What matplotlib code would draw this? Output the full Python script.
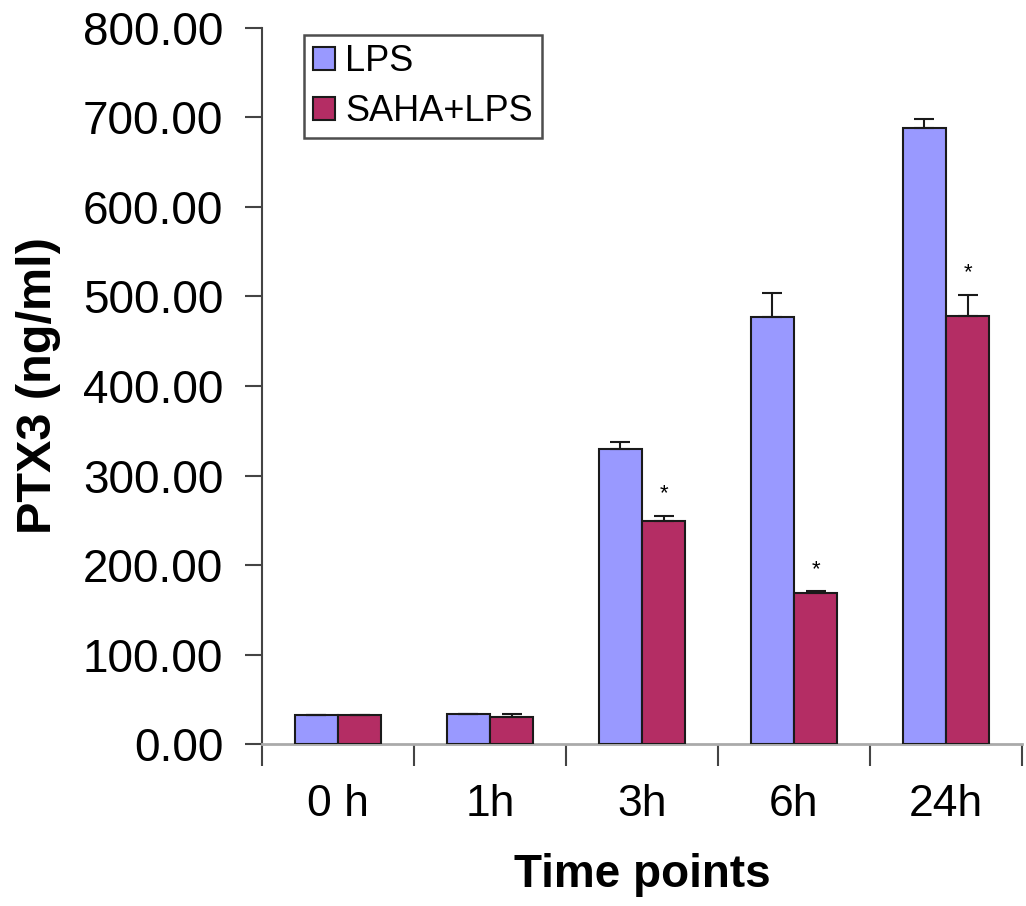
import matplotlib
matplotlib.use("Agg")
import matplotlib.pyplot as plt
import numpy as np

plt.rcParams['font.family'] = ['Liberation Sans', 'DejaVu Sans']

categories = ["0 h", "1h", "3h", "6h", "24h"]
lps_values = [32, 34, 330, 477, 688]
lps_errors = [0, 0, 7, 27, 10]
saha_values = [32, 30, 249, 169, 478]
saha_errors = [0, 3, 6, 2, 24]
significant = [False, False, True, True, True]
yticks = [0, 100, 200, 300, 400, 500, 600, 700, 800]

lps_color = "#9999FF"
saha_color = "#B42D64"

fig = plt.figure(figsize=(10.26, 9.06), dpi=100)
ax = fig.add_axes([0.2554, 0.1788, 0.7406, 0.7903])

x = np.arange(len(categories))
w = 0.285
ax.bar(x - w / 2, lps_values, w, color=lps_color, edgecolor="#1a1a1a", linewidth=1.5,
       yerr=[np.zeros(len(x)), lps_errors], error_kw=dict(ecolor="#1a1a1a", elinewidth=1.5, capsize=7, capthick=1.5),
       label="LPS", zorder=3)
ax.bar(x + w / 2, saha_values, w, color=saha_color, edgecolor="#1a1a1a", linewidth=1.5,
       yerr=[np.zeros(len(x)), saha_errors], error_kw=dict(ecolor="#1a1a1a", elinewidth=1.5, capsize=7, capthick=1.5),
       label="SAHA+LPS", zorder=3)

for i, sig in enumerate(significant):
    if sig:
        ax.annotate("*", (x[i] + w / 2, saha_values[i] + saha_errors[i]), xytext=(0, 8),
                    textcoords="offset points", ha="center", va="bottom", fontsize=16)

ax.set_xlim(-0.5, len(categories) - 0.5)
ax.set_ylim(0, 800)
ax.set_yticks(yticks)
ax.set_yticklabels([f"{v:.2f}" for v in yticks], fontsize=33)
ax.set_xticks(x)
ax.set_xticklabels(categories, fontsize=32)
ax.set_xticks(np.arange(-0.5, len(categories)), minor=True)
ax.tick_params(axis="x", which="major", length=0, pad=29)
ax.tick_params(axis="x", which="minor", length=16, width=1.5, color="#444444")
ax.tick_params(axis="y", which="major", length=12, width=1.5, color="#444444", pad=16)

for s in ["top", "right"]:
    ax.spines[s].set_visible(False)
ax.spines["left"].set_color("#444444")
ax.spines["left"].set_linewidth(1.5)
ax.spines["bottom"].set_color("#aaaaaa")
ax.spines["bottom"].set_linewidth(2)

ax.set_ylabel("PTX3 (ng/ml)", fontsize=35, fontweight="bold", labelpad=16)
ax.set_xlabel("Time points", fontsize=33, fontweight="bold", labelpad=20)

leg = ax.legend(loc="upper left", bbox_to_anchor=(0.055, 0.99), fontsize=26, frameon=True,
                fancybox=False, edgecolor="#222222", handlelength=0.6, handleheight=0.6,
                handletextpad=0.3, borderpad=0.25, labelspacing=0.42, borderaxespad=0)
leg.get_frame().set_linewidth(1.8)

fig.savefig("out.png", dpi=100, facecolor="white")
